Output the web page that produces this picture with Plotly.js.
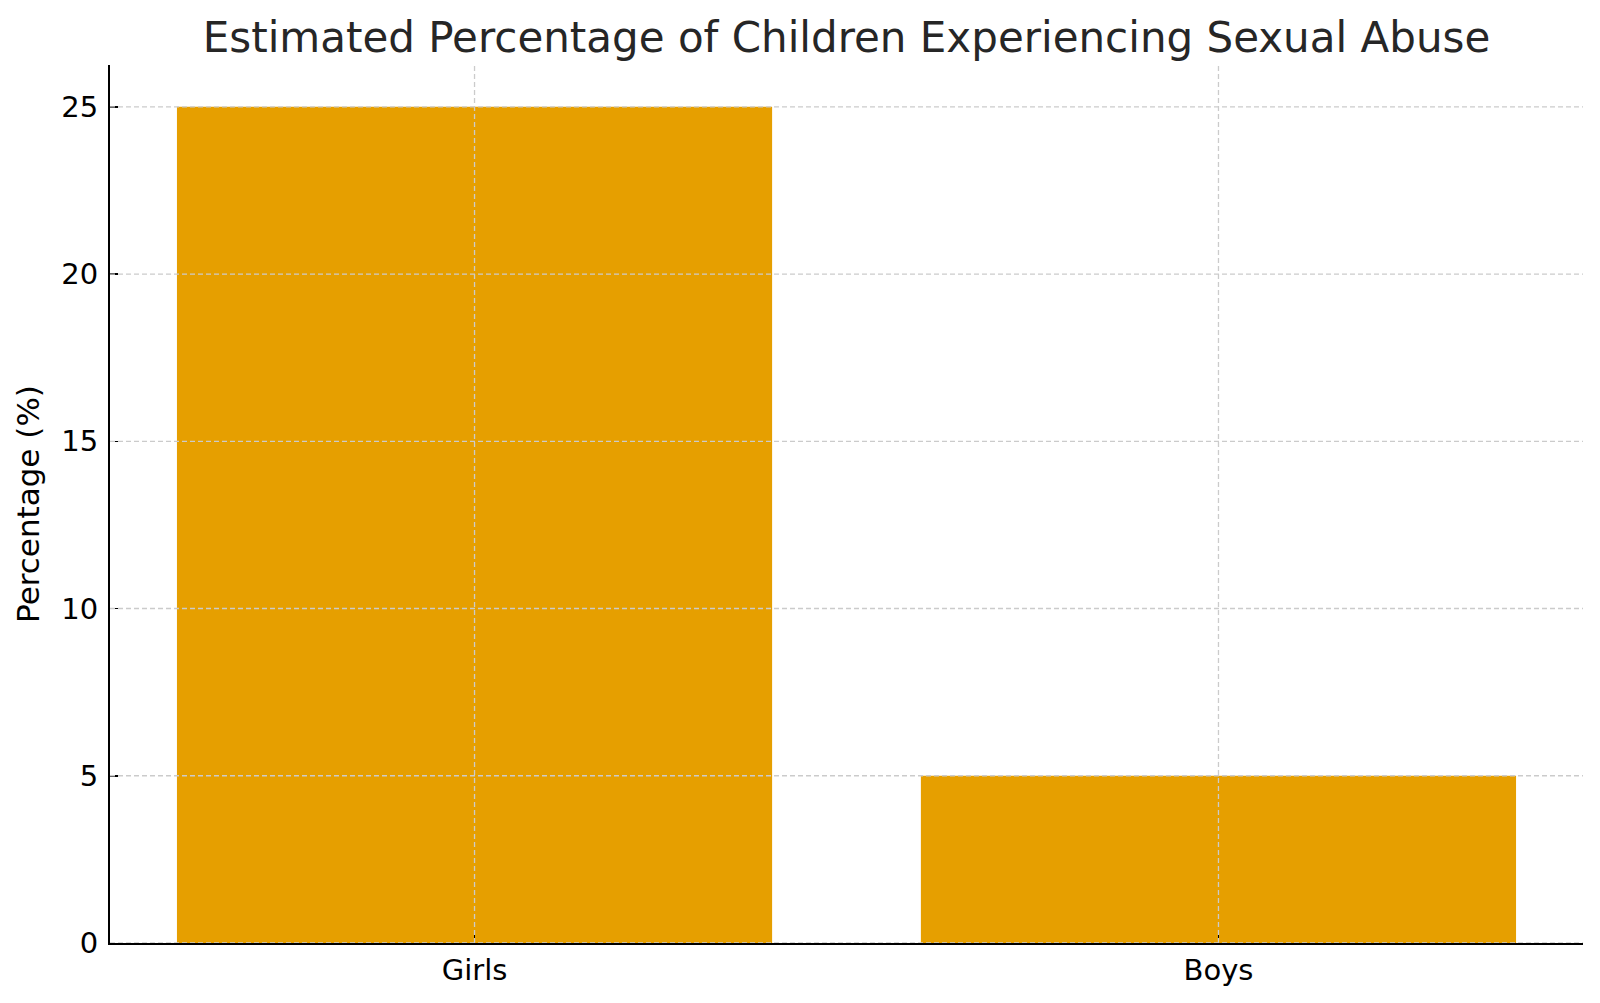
<!DOCTYPE html>
<html>
<head>
<meta charset="utf-8">
<script src="https://cdn.plot.ly/plotly-3.0.1.min.js"></script>
<style>
  html, body { margin: 0; padding: 0; background: #fff; }
  #plot { width: 1600px; height: 1003px; }
</style>
</head>
<body>
<div id="plot"></div>
<script>
const groups = ['Girls', 'Boys'];
const percentages = [25, 5];
const yTicks = [0, 5, 10, 15, 20, 25];

const FONT = 'DejaVu Sans, sans-serif';
const gridLine = { color: '#cbcbcb', width: 1.3, dash: '5px,3px' };

// grid lines drawn as shapes so they sit above the bars (like the original)
const gridShapes = [];
yTicks.forEach(t => {
  gridShapes.push({
    type: 'line', layer: 'above', xref: 'paper', yref: 'y',
    x0: 0, x1: 1, y0: t, y1: t, line: gridLine
  });
});
groups.forEach(g => {
  gridShapes.push({
    type: 'line', layer: 'above', xref: 'x', yref: 'paper',
    x0: g, x1: g, y0: 0, y1: 1, line: gridLine
  });
});

const bars = {
  x: groups,
  y: percentages,
  type: 'bar',
  width: 0.8,
  marker: { color: '#E69F00', line: { width: 0 } },
  hoverinfo: 'skip'
};

const layout = {
  width: 1600,
  height: 1003,
  margin: { l: 110, r: 17, t: 65, b: 60 },
  paper_bgcolor: '#ffffff',
  plot_bgcolor: '#ffffff',
  showlegend: false,
  font: { family: FONT, color: '#000' },
  title: {
    text: 'Estimated Percentage of Children Experiencing Sexual Abuse',
    font: { family: FONT, size: 42, color: '#262626' },
    x: 0.5, xref: 'paper',
    y: 1 - 37 / 1003, yref: 'container', yanchor: 'middle'
  },
  xaxis: {
    type: 'category',
    range: [-0.49, 1.49],
    showgrid: false,
    zeroline: false,
    showline: true, linecolor: '#000', linewidth: 2,
    ticks: 'inside', ticklen: 8, tickwidth: 1.5, tickcolor: '#000',
    tickfont: { family: FONT, size: 29, color: '#000' },
    ticklabelstandoff: 0,
    layer: 'above traces'
  },
  yaxis: {
    range: [0, 26.25],
    tickvals: yTicks,
    showgrid: false,
    zeroline: false,
    showline: true, linecolor: '#000', linewidth: 2,
    ticks: 'inside', ticklen: 8, tickwidth: 1.5, tickcolor: '#000',
    tickfont: { family: FONT, size: 29, color: '#000' },
    ticklabelstandoff: 4,
    layer: 'above traces',
    title: {
      text: 'Percentage (%)',
      font: { family: FONT, size: 31, color: '#000' },
      standoff: 12
    }
  },
  shapes: gridShapes
};

Plotly.newPlot('plot', [bars], layout, { displayModeBar: false, staticPlot: true });
</script>
</body>
</html>
